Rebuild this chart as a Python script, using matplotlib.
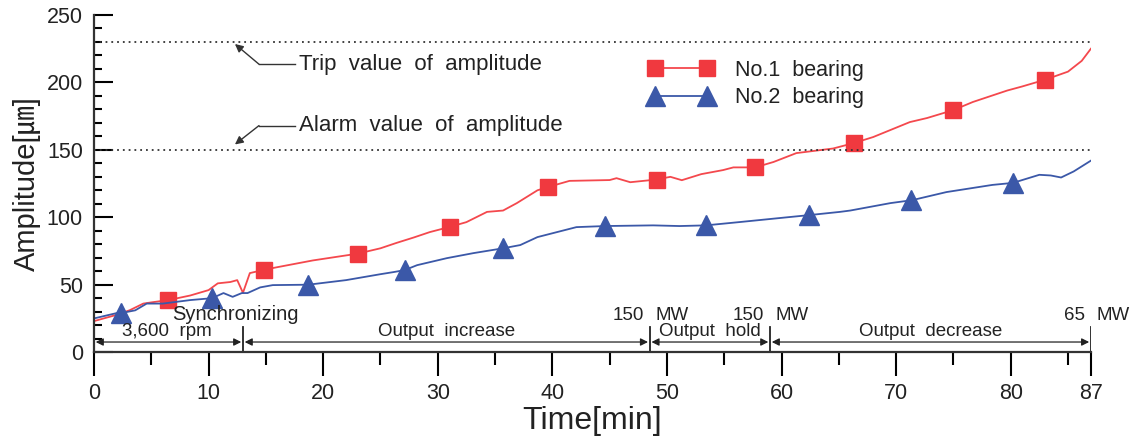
"""Bearing vibration amplitude during synchronizing and load change."""
import matplotlib

matplotlib.use("Agg")
import matplotlib.pyplot as plt
from matplotlib.lines import Line2D
from matplotlib.ticker import MultipleLocator, FixedLocator

plt.rcParams["font.family"] = ["Liberation Sans", "Noto Sans CJK JP", "DejaVu Sans"]

# No.1 bearing (red) trace and its marker points
red_x = [0, 1.7, 3.1, 4.3, 5.1, 6.5, 8.4, 10.0, 10.8, 11.9, 12.5, 13.0, 13.6, 14.8,
         16.0, 19.1, 23.0, 25.0, 26.4, 27.9, 29.3, 31.1, 32.5, 34.3, 35.7, 36.9,
         38.7, 39.6, 41.5, 45.0, 45.6, 46.8, 49.1, 50.3, 51.3, 53.0, 54.9, 55.8,
         57.7, 59.3, 61.3, 64.5, 66.3, 68.0, 71.2, 72.7, 75.0, 76.7, 79.7, 81.0,
         83.0, 85.0, 86.2, 87.0]
red_y = [23, 27, 31, 36, 37, 38.6, 42, 46, 51, 52, 53.4, 44, 58.6, 61,
         63, 68, 73, 77, 81, 85, 89, 93, 96.4, 104, 105, 110.5,
         120, 122.4, 127, 127.6, 129, 126, 128, 130, 127.5, 132, 135, 137,
         137, 141, 147.6, 151, 155, 159.5, 170.6, 173.6, 179.5, 185.5, 194, 197,
         202, 208, 216, 225]
red_mx = [6.5, 14.8, 23.0, 31.1, 39.6, 49.1, 57.7, 66.3, 75.0, 83.0]
red_my = [38.6, 61, 73, 93, 122.4, 128, 137, 155, 179.5, 202]

# No.2 bearing (blue) trace and its marker points
blue_x = [0, 2.0, 2.4, 3.6, 4.6, 6.0, 8.4, 10.3, 11.3, 12.1, 12.9, 13.4, 14.5,
          15.6, 18.7, 22.0, 25.0, 26.1, 27.1, 28.2, 30.8, 33.1, 35.7, 37.2, 38.7,
          40.4, 42.1, 44.6, 48.8, 51.1, 53.4, 56.4, 60.5, 62.4, 65.1, 66.0, 69.5,
          71.4, 74.4, 78.4, 80.2, 82.5, 83.5, 84.4, 85.5, 87.0]
blue_y = [25, 29, 29, 31, 36, 36, 38.6, 40, 43.8, 41, 43.8, 43.8, 48,
          49.7, 50, 53.4, 57.8, 59.3, 60.8, 64.5, 69.7, 73.4, 77, 79.4, 85.3,
          89, 92.7, 93.5, 94, 93.5, 94, 96.5, 100, 101.6, 104, 105, 110.5,
          112.7, 118.7, 124, 125.5, 131.5, 131, 129.5, 134, 142]
blue_mx = [2.4, 10.3, 18.7, 27.1, 35.7, 44.6, 53.4, 62.4, 71.3, 80.2]
blue_my = [29, 40, 50, 60.8, 77, 93.5, 94, 101.6, 112.7, 125.5]

trip_level = 230
alarm_level = 150

# operating stages along the time axis
stage_bounds = [0, 13, 48.5, 59, 87]
stage_names = ["3,600  rpm", "Output  increase", "Output  hold", "Output  decrease"]
stage_power = [(48.5, "150"), (59, "150"), (87, "65")]

RED = "#f0393f"
RED_LINE = "#f4484d"
BLUE = "#3b58a8"
INK = "#222222"


def main() -> None:
    fig = plt.figure(figsize=(11.38, 4.48), dpi=100)
    ax = fig.add_axes([0.0826, 0.214, 0.876, 0.7525])

    ax.plot(red_x, red_y, color=RED_LINE, lw=1.3)
    ax.plot(red_mx, red_my, "s", color=RED, ms=12, mec=RED)
    ax.plot(blue_x, blue_y, color=BLUE, lw=1.3)
    ax.plot(blue_mx, blue_my, "^", color=BLUE, ms=14.5, mec=BLUE)

    ax.hlines([trip_level, alarm_level], 0, 87, colors="#333333",
              linestyles=(0, (1, 2.2)), lw=1.3)

    # leader arrows for the limit lines
    for level, text_y, label in [(trip_level, 213.5, "Trip  value  of  amplitude"),
                                 (alarm_level, 168, "Alarm  value  of  amplitude")]:
        head_y = level - 1.5 if level == trip_level else level + 4
        ax.plot([14.4, 17.5], [text_y, text_y], color="#333333", lw=1)
        ax.annotate("", xy=(12.3, head_y), xytext=(14.4, text_y),
                    arrowprops=dict(arrowstyle="-|>", color="#333333", lw=1,
                                    mutation_scale=12, shrinkA=0, shrinkB=0))
        ax.text(17.9, text_y, label, fontsize=16, va="center", ha="left", color=INK)

    # stage separators and double arrows
    for b in stage_bounds[1:]:
        ax.plot([b, b], [0, 19], color=INK, lw=1.3)
    for i, name in enumerate(stage_names):
        a, b = stage_bounds[i], stage_bounds[i + 1]
        ax.annotate("", xy=(b - 0.15, 7.5), xytext=(a + 0.15, 7.5),
                    arrowprops=dict(arrowstyle="<|-|>", color=INK, lw=0.9,
                                    mutation_scale=11, shrinkA=0, shrinkB=0))
        cx = (a + b) / 2 if i else 6.4
        ax.text(cx, 15.5, name, fontsize=13.5, ha="center", va="center", color=INK)
    ax.text(12.3, 28, "Synchronizing", fontsize=14.5, ha="center", va="center",
            color=INK)
    for x, p in stage_power:
        ax.text(x - 0.5, 27, p, fontsize=13.5, ha="right", va="center", color=INK)
        ax.text(x + 0.5, 27, "MW", fontsize=13.5, ha="left", va="center", color=INK)

    ax.set_xlim(0, 87)
    ax.set_ylim(0, 250)
    ax.xaxis.set_major_locator(FixedLocator([0, 10, 20, 30, 40, 50, 60, 70, 80, 87]))
    ax.xaxis.set_minor_locator(FixedLocator([5, 15, 25, 35, 45, 55, 65, 75, 85]))
    ax.yaxis.set_major_locator(MultipleLocator(50))
    ax.yaxis.set_minor_locator(MultipleLocator(10))
    ax.tick_params(axis="y", which="major", direction="in", length=14, width=1.5,
                   labelsize=15.5, pad=8, labelcolor=INK)
    ax.tick_params(axis="y", which="minor", direction="in", length=6, width=1.5)
    ax.tick_params(axis="x", which="major", direction="out", length=17, width=1.5,
                   labelsize=15.5, pad=5, labelcolor=INK)
    ax.tick_params(axis="x", which="minor", direction="out", length=9, width=1.5)
    for s in ("top", "right"):
        ax.spines[s].set_visible(False)
    for s in ("left", "bottom"):
        ax.spines[s].set_linewidth(1.6)
        ax.spines[s].set_color("#333333")

    ax.set_xlabel("Time[min]", fontsize=23, labelpad=2, color=INK)
    ax.set_ylabel("Amplitude[㎛]", fontsize=21, labelpad=4, color=INK)

    handles = [
        Line2D([], [], color=RED_LINE, lw=1.3, marker="s", ms=12, mfc=RED, mec=RED),
        Line2D([], [], color=BLUE, lw=1.3, marker="^", ms=14.5, mfc=BLUE, mec=BLUE),
    ]
    ax.legend(handles, ["No.1  bearing", "No.2  bearing"], loc="upper left",
              bbox_to_anchor=(0.537, 0.925), frameon=False, numpoints=2,
              handlelength=3.0, fontsize=15.5, labelspacing=0.3, handletextpad=1.0,
              labelcolor=INK)

    fig.savefig("out.png", dpi=100)
    plt.close(fig)


if __name__ == "__main__":
    main()
